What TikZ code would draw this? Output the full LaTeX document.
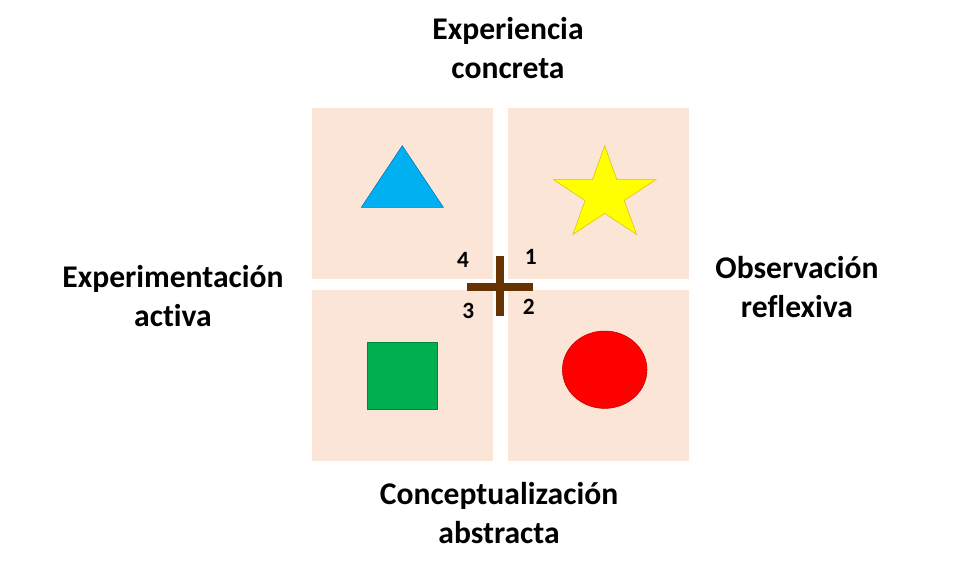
\documentclass[tikz,border=0pt]{standalone}
\usepackage{fontspec}
\setmainfont{Carlito}[Ligatures=NoCommon]
\usepackage{tikz}
\usetikzlibrary{positioning}
\definecolor{fondo}{HTML}{FBE5D6}
\definecolor{cruz}{HTML}{663300}
\definecolor{azul}{HTML}{00B0F0}
\definecolor{azulb}{HTML}{0070C0}
\definecolor{verde}{HTML}{00B050}
\definecolor{verdeb}{HTML}{00863C}
\definecolor{rojo}{HTML}{FF0000}
\definecolor{rojob}{HTML}{C00000}
\definecolor{amarillo}{HTML}{FFFF00}
\definecolor{amarillob}{HTML}{E0C000}
\tikzset{
  cuadro/.style={fill=fondo},
  etiqueta/.style={align=center,font=\bfseries\fontsize{23.7}{29.5}\selectfont},
  num/.style={font=\bfseries\fontsize{17.5}{20}\selectfont},
  barra/.style={draw=cruz,line width=6pt},
}
\begin{document}
\begin{tikzpicture}[x=0.75pt,y=-0.75pt]
  \useasboundingbox (0,0) rectangle (970,572);
  % cuadrantes
  \fill[cuadro] (312,108) rectangle (492.7,279);
  \fill[cuadro] (508,108) rectangle (689,279);
  \fill[cuadro] (312,290) rectangle (492.7,461);
  \fill[cuadro] (508,290) rectangle (689,461);
  % figuras
  \draw[fill=azul,draw=azulb] (402.3,145.7) -- (443.3,207.3) -- (361.3,207.3) -- cycle;
  \draw[fill=amarillo,draw=amarillob] plot[samples at={0,...,9},variable=\k]
    ({604.7+(mod(\k,2)==0 ? 54 : 20.6)*cos(-90+36*\k)},{194.7+(mod(\k,2)==0 ? 49 : 18.7)*sin(-90+36*\k)}) -- cycle;
  \draw[fill=verde,draw=verdeb] (367.3,342.3) rectangle (437.7,409.3);
  \draw[fill=rojo,draw=rojob] (604.7,369.7) ellipse [x radius=42.3,y radius=38.7];
  % cruz
  \coordinate (arr) at (500,255.7);
  \coordinate (aba) at (500,315.7);
  \coordinate (izq) at (466.7,287.2);
  \coordinate (der) at (532.7,287.2);
  \draw[barra] (arr) -- (aba);
  \draw[barra] (izq) -- (der);
  \node[num] (n4) at (463,260) {4};
  \node[num] (n1) at (530.7,257) {1};
  \node[num] (n3) at (468.3,310.7) {3};
  \node[num] (n2) at (528.7,307.3) {2};
  % etiquetas
  \node[etiqueta] (ec) at (508,48) {Experiencia\\concreta};
  \node[etiqueta] (ea) at (173,296) {Experimentación\\activa};
  \node[etiqueta] (or) at (797,287) {Observación\\reflexiva};
  \node[etiqueta] (ca) at (499,513) {Conceptualización\\abstracta};
\end{tikzpicture}
\end{document}
